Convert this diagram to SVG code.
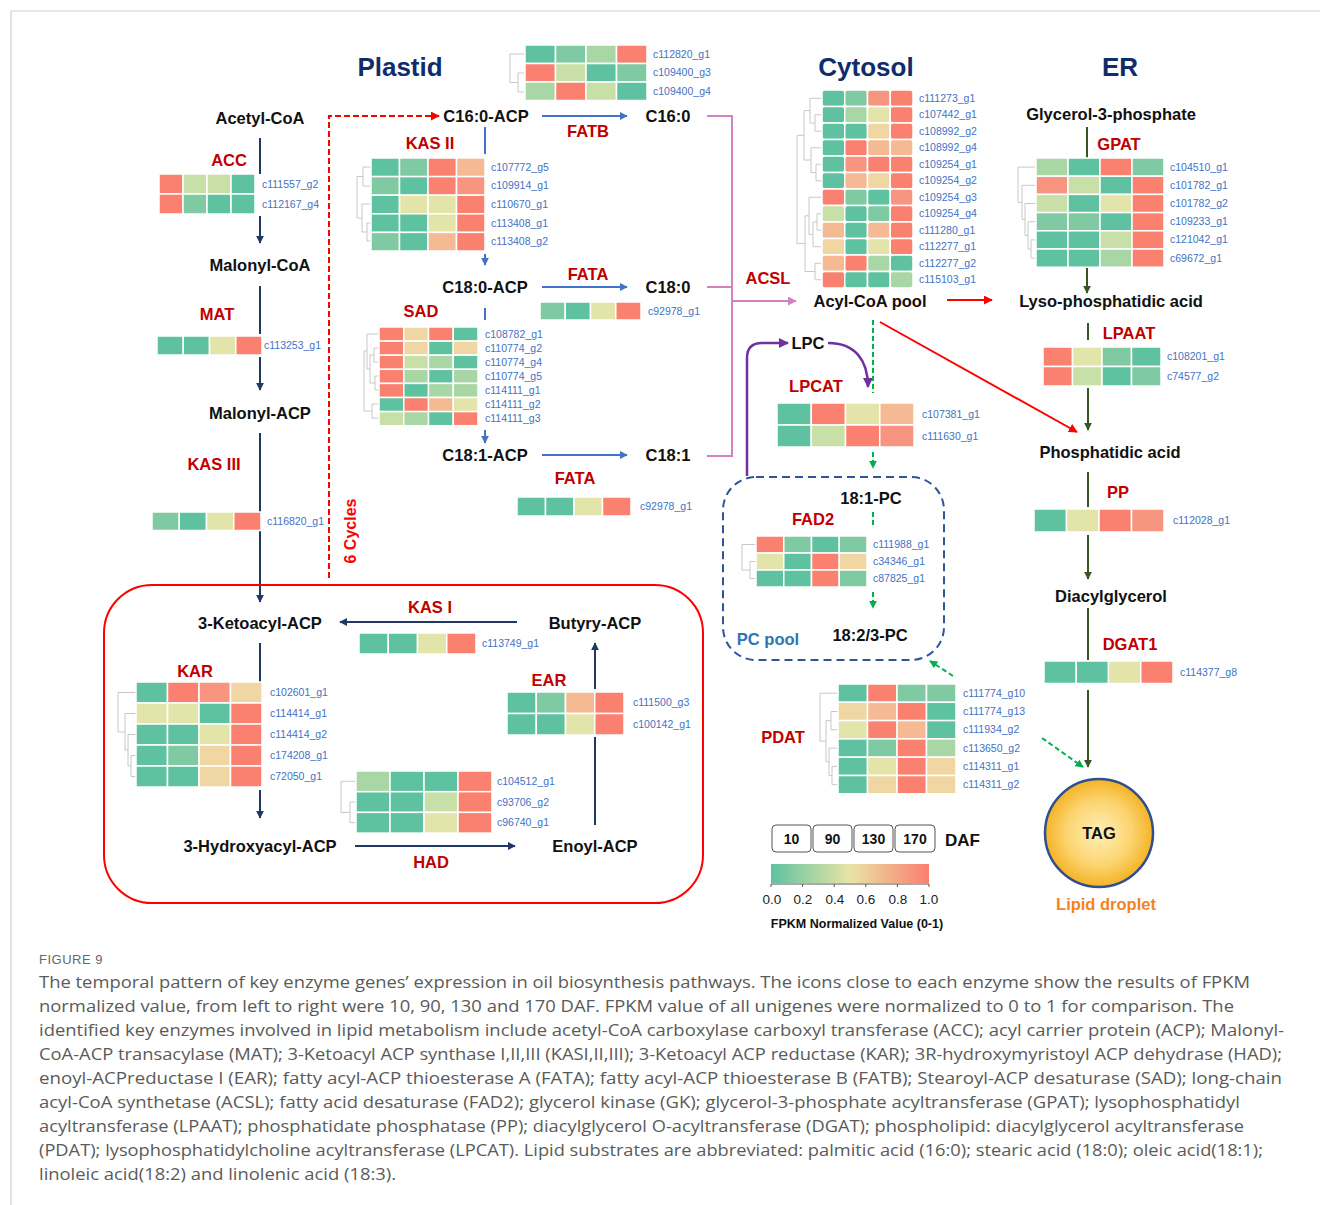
<svg xmlns="http://www.w3.org/2000/svg" width="1320" height="1205" viewBox="0 0 1320 1205">
<style>
.hm rect{stroke:#fff;stroke-width:1.5}
.cy rect{rx:2.5}
.A{fill:#5ec2a0}.B{fill:#7fcaa3}.C{fill:#a8d6a4}.D{fill:#c9dfa8}.E{fill:#e3e4aa}.F{fill:#f0d6a2}.G{fill:#f5ba94}.H{fill:#f89580}.I{fill:#fa806f}
.lbl{font-family:"Liberation Sans",Arial,sans-serif;font-weight:bold;font-size:16.5px;fill:#111;text-anchor:middle}
.enz{font-family:"Liberation Sans",Arial,sans-serif;font-weight:bold;font-size:16.5px;fill:#c00000;text-anchor:middle}
.gene{font-family:"Liberation Sans",Arial,sans-serif;font-size:10.5px;fill:#4472c4}
.title{font-family:"Liberation Sans",Arial,sans-serif;font-weight:bold;font-size:26px;fill:#0f2d6b;text-anchor:middle}
.dend{fill:none;stroke:#c8c8c8;stroke-width:1}
.cap{font-family:"Open Sans","Liberation Sans",sans-serif;font-size:16.5px;fill:#5a5a5a}
.navy{stroke:#1f3864;stroke-width:2;fill:none}
.blue{stroke:#4472c4;stroke-width:2;fill:none}
.pink{stroke:#d580c0;stroke-width:2;fill:none}
.red{stroke:#ff0000;stroke-width:2;fill:none}
.dg{stroke:#375623;stroke-width:2;fill:none}
.pur{stroke:#7030a0;stroke-width:2.5;fill:none}
.lg{stroke:#00b050;stroke-width:2;fill:none;stroke-dasharray:5,3}
.box{fill:#fff;stroke:#555;stroke-width:1}
.leg{font-family:"Liberation Sans",Arial,sans-serif;font-size:14px;font-weight:bold;fill:#111;text-anchor:middle}
.num{font-family:"Liberation Sans",Arial,sans-serif;font-size:13.5px;fill:#222;text-anchor:middle}
</style>
<defs>
<marker id="mNavy" viewBox="0 0 10 10" refX="9" refY="5" markerWidth="8" markerHeight="8" markerUnits="userSpaceOnUse" orient="auto"><path d="M0,0 L10,5 L0,10 z" fill="#1f3864"/></marker>
<marker id="mBlue" viewBox="0 0 10 10" refX="9" refY="5" markerWidth="8" markerHeight="8" markerUnits="userSpaceOnUse" orient="auto"><path d="M0,0 L10,5 L0,10 z" fill="#4472c4"/></marker>
<marker id="mPink" viewBox="0 0 10 10" refX="9" refY="5" markerWidth="9" markerHeight="9" markerUnits="userSpaceOnUse" orient="auto"><path d="M0,0 L10,5 L0,10 z" fill="#d580c0"/></marker>
<marker id="mRed" viewBox="0 0 10 10" refX="9" refY="5" markerWidth="9" markerHeight="9" markerUnits="userSpaceOnUse" orient="auto"><path d="M0,0 L10,5 L0,10 z" fill="#ff0000"/></marker>
<marker id="mDg" viewBox="0 0 10 10" refX="9" refY="5" markerWidth="8" markerHeight="8" markerUnits="userSpaceOnUse" orient="auto"><path d="M0,0 L10,5 L0,10 z" fill="#375623"/></marker>
<marker id="mPur" viewBox="0 0 10 10" refX="9" refY="5" markerWidth="10" markerHeight="10" markerUnits="userSpaceOnUse" orient="auto"><path d="M0,0 L10,5 L0,10 z" fill="#7030a0"/></marker>
<marker id="mLg" viewBox="0 0 10 10" refX="9" refY="5" markerWidth="8" markerHeight="8" markerUnits="userSpaceOnUse" orient="auto"><path d="M0,0 L10,5 L0,10 z" fill="#00b050"/></marker>
<linearGradient id="scale" x1="0" y1="0" x2="1" y2="0">
<stop offset="0" stop-color="#5ec2a0"/><stop offset="0.5" stop-color="#e8e4a6"/><stop offset="1" stop-color="#fa7f6e"/>
</linearGradient>
<radialGradient id="tag" cx="0.5" cy="0.5" r="0.5">
<stop offset="0" stop-color="#fff0b8"/><stop offset="0.6" stop-color="#fcd470"/><stop offset="1" stop-color="#f4b326"/>
</radialGradient>
</defs>
<rect width="1320" height="1205" fill="#fff"/>
<path d="M11,1205 V11 H1320" fill="none" stroke="#d0d0d0" stroke-width="1.2"/>

<g id="titles">
<text class="title" x="400" y="76">Plastid</text>
<text class="title" x="866" y="76">Cytosol</text>
<text class="title" x="1120" y="76">ER</text>
</g>

<g id="connectors">
<line class="navy" x1="260" y1="138" x2="260" y2="174"/>
<line class="navy" x1="260" y1="216" x2="260" y2="243" marker-end="url(#mNavy)"/>
<line class="navy" x1="260" y1="286" x2="260" y2="334"/>
<line class="navy" x1="260" y1="357" x2="260" y2="390" marker-end="url(#mNavy)"/>
<line class="navy" x1="260" y1="433" x2="260" y2="512"/>
<line class="navy" x1="260" y1="531" x2="260" y2="602" marker-end="url(#mNavy)"/>
<line class="navy" x1="260" y1="643" x2="260" y2="682"/>
<line class="navy" x1="260" y1="790" x2="260" y2="818" marker-end="url(#mNavy)"/>
<line class="navy" x1="517" y1="622" x2="340" y2="622" marker-end="url(#mNavy)"/>
<line class="navy" x1="355" y1="846" x2="515" y2="846" marker-end="url(#mNavy)"/>
<line class="navy" x1="595" y1="825" x2="595" y2="737"/>
<line class="navy" x1="595" y1="689" x2="595" y2="643" marker-end="url(#mNavy)"/>
<path d="M329,578 V116 H439" fill="none" stroke="#ff0000" stroke-width="2" stroke-dasharray="6,3" marker-end="url(#mRed)"/>
<line class="blue" x1="485" y1="127" x2="485" y2="154"/>
<line class="blue" x1="485" y1="254" x2="485" y2="265" marker-end="url(#mBlue)"/>
<line class="blue" x1="485" y1="308" x2="485" y2="320"/>
<line class="blue" x1="485" y1="430" x2="485" y2="443" marker-end="url(#mBlue)"/>
<line class="blue" x1="542" y1="116" x2="627" y2="116" marker-end="url(#mBlue)"/>
<line class="blue" x1="542" y1="287" x2="627" y2="287" marker-end="url(#mBlue)"/>
<line class="blue" x1="542" y1="455" x2="627" y2="455" marker-end="url(#mBlue)"/>
<path class="pink" d="M707,116 H732 V456 H707 M707,287 H732"/>
<line class="pink" x1="732" y1="301" x2="796" y2="301" marker-end="url(#mPink)"/>
<line class="red" x1="947" y1="300" x2="992" y2="300" marker-end="url(#mRed)"/>
<line class="red" x1="880" y1="322" x2="1077" y2="432" marker-end="url(#mRed)"/>
<line class="dg" x1="1087" y1="127" x2="1087" y2="158"/>
<line class="dg" x1="1087" y1="267" x2="1087" y2="293" marker-end="url(#mDg)"/>
<line class="dg" x1="1088" y1="323" x2="1088" y2="340"/>
<line class="dg" x1="1088" y1="388" x2="1088" y2="430" marker-end="url(#mDg)"/>
<line class="dg" x1="1088" y1="472" x2="1088" y2="507"/>
<line class="dg" x1="1088" y1="535" x2="1088" y2="579" marker-end="url(#mDg)"/>
<line class="dg" x1="1088" y1="608" x2="1088" y2="660"/>
<line class="dg" x1="1088" y1="690" x2="1088" y2="767" marker-end="url(#mDg)"/>
<path class="pur" d="M747,476 V358 Q747,343 762,343 H788" marker-end="url(#mPur)"/>
<path class="pur" d="M828,343 C855,343 868,360 868,387" marker-end="url(#mPur)"/>
<line class="lg" x1="873" y1="320" x2="873" y2="393"/>
<line class="lg" x1="873" y1="452" x2="873" y2="468" marker-end="url(#mLg)"/>
<line class="lg" x1="873" y1="512" x2="873" y2="528"/>
<line class="lg" x1="873" y1="592" x2="873" y2="608" marker-end="url(#mLg)"/>
<line class="lg" x1="953" y1="676" x2="930" y2="661" marker-end="url(#mLg)"/>
<line class="lg" x1="1042" y1="738" x2="1083" y2="767" marker-end="url(#mLg)"/>
</g>

<g id="cycle-box"><rect x="104" y="585" width="599" height="318" rx="48" fill="none" stroke="#ff0000" stroke-width="2"/></g>
<g id="pc-pool"><rect x="723" y="477" width="221" height="183" rx="33" fill="none" stroke="#2f5597" stroke-width="2" stroke-dasharray="8,5"/>
<text x="768" y="645" font-family="Liberation Sans, Arial, sans-serif" font-weight="bold" font-size="16.5" fill="#2e75b6" text-anchor="middle">PC pool</text></g>

<g id="cycles-label"><text transform="translate(356,531) rotate(-90)" font-family="Liberation Sans, Arial, sans-serif" font-weight="bold" font-size="16" fill="#ff0000" text-anchor="middle">6 Cycles</text></g>

<g id="metabolites">
<text class="lbl" x="260" y="124">Acetyl-CoA</text>
<text class="lbl" x="260" y="271">Malonyl-CoA</text>
<text class="lbl" x="260" y="419">Malonyl-ACP</text>
<text class="lbl" x="486" y="122">C16:0-ACP</text>
<text class="lbl" x="668" y="122">C16:0</text>
<text class="lbl" x="485" y="293">C18:0-ACP</text>
<text class="lbl" x="668" y="293">C18:0</text>
<text class="lbl" x="485" y="461">C18:1-ACP</text>
<text class="lbl" x="668" y="461">C18:1</text>
<text class="lbl" x="870" y="307">Acyl-CoA pool</text>
<text class="lbl" x="1111" y="120">Glycerol-3-phosphate</text>
<text class="lbl" x="1111" y="307">Lyso-phosphatidic acid</text>
<text class="lbl" x="1110" y="458">Phosphatidic acid</text>
<text class="lbl" x="1111" y="602">Diacylglycerol</text>
<text class="lbl" x="808" y="349">LPC</text>
<text class="lbl" x="871" y="504">18:1-PC</text>
<text class="lbl" x="870" y="641">18:2/3-PC</text>
<text class="lbl" x="260" y="629">3-Ketoacyl-ACP</text>
<text class="lbl" x="595" y="629">Butyry-ACP</text>
<text class="lbl" x="260" y="852">3-Hydroxyacyl-ACP</text>
<text class="lbl" x="595" y="852">Enoyl-ACP</text>
</g>

<g id="tag-droplet">
<circle cx="1099" cy="833" r="54" fill="url(#tag)" stroke="#2f4f8f" stroke-width="2.5"/>
<text class="lbl" x="1099" y="839">TAG</text>
<text x="1106" y="910" font-family="Liberation Sans, Arial, sans-serif" font-weight="bold" font-size="16.5" fill="#f4831f" text-anchor="middle">Lipid droplet</text>
</g>

<g id="enzymes">
<text class="enz" x="229" y="166">ACC</text>
<text class="enz" x="217" y="320">MAT</text>
<text class="enz" x="214" y="470">KAS III</text>
<text class="enz" x="430" y="149">KAS II</text>
<text class="enz" x="588" y="137">FATB</text>
<text class="enz" x="588" y="280">FATA</text>
<text class="enz" x="421" y="317">SAD</text>
<text class="enz" x="575" y="484">FATA</text>
<text class="enz" x="768" y="284">ACSL</text>
<text class="enz" x="1119" y="150">GPAT</text>
<text class="enz" x="1129" y="339">LPAAT</text>
<text class="enz" x="1118" y="498">PP</text>
<text class="enz" x="1130" y="650">DGAT1</text>
<text class="enz" x="816" y="392">LPCAT</text>
<text class="enz" x="813" y="525">FAD2</text>
<text class="enz" x="783" y="743">PDAT</text>
<text class="enz" x="430" y="613">KAS I</text>
<text class="enz" x="195" y="677">KAR</text>
<text class="enz" x="549" y="686">EAR</text>
<text class="enz" x="431" y="868">HAD</text>
</g>

<g id="hm-acc"><g class="hm" transform="translate(159,174)">
<rect x="0" y="0" width="24" height="20" class="I"/><rect x="24" y="0" width="24" height="20" class="D"/><rect x="48" y="0" width="24" height="20" class="D"/><rect x="72" y="0" width="24" height="20" class="A"/>
<rect x="0" y="20" width="24" height="20" class="I"/><rect x="24" y="20" width="24" height="20" class="B"/><rect x="48" y="20" width="24" height="20" class="A"/><rect x="72" y="20" width="24" height="20" class="A"/>
</g><text class="gene" x="262" y="187.5">c111557_g2</text><text class="gene" x="262" y="207.5">c112167_g4</text></g>

<g id="hm-mat"><g class="hm" transform="translate(157,336)">
<rect x="0" y="0" width="26.25" height="19" class="A"/><rect x="26.25" y="0" width="26.25" height="19" class="A"/><rect x="52.5" y="0" width="26.25" height="19" class="E"/><rect x="78.75" y="0" width="26.25" height="19" class="I"/>
</g><text class="gene" x="264" y="349">c113253_g1</text></g>

<g id="hm-kas3"><g class="hm" transform="translate(152,512)">
<rect x="0" y="0" width="27.25" height="18.5" class="B"/><rect x="27.25" y="0" width="27.25" height="18.5" class="A"/><rect x="54.5" y="0" width="27.25" height="18.5" class="E"/><rect x="81.75" y="0" width="27.25" height="18.5" class="I"/>
</g><text class="gene" x="267" y="524.5">c116820_g1</text></g>

<g id="hm-fatb">
<path class="dend" d="M525,73 H518 V92 H525 M518,82.5 H510 V54 H525"/>
<g class="hm" transform="translate(525,45)">
<rect x="0" y="0" width="30.5" height="18.5" class="A"/><rect x="30.5" y="0" width="30.5" height="18.5" class="B"/><rect x="61" y="0" width="30.5" height="18.5" class="C"/><rect x="91.5" y="0" width="30.5" height="18.5" class="I"/>
<rect x="0" y="18.5" width="30.5" height="18.5" class="I"/><rect x="30.5" y="18.5" width="30.5" height="18.5" class="D"/><rect x="61" y="18.5" width="30.5" height="18.5" class="A"/><rect x="91.5" y="18.5" width="30.5" height="18.5" class="B"/>
<rect x="0" y="37" width="30.5" height="18.5" class="C"/><rect x="30.5" y="37" width="30.5" height="18.5" class="I"/><rect x="61" y="37" width="30.5" height="18.5" class="D"/><rect x="91.5" y="37" width="30.5" height="18.5" class="A"/>
</g>
<text class="gene" x="653" y="57.5">c112820_g1</text><text class="gene" x="653" y="76">c109400_g3</text><text class="gene" x="653" y="94.5">c109400_g4</text></g>

<g id="hm-kas2">
<path class="dend" d="M371,167 H363 V186 H371 M371,223 H367 V241 H371 M367,232 H362 V204 H371 M363,176.5 H357 V218 H362"/>
<g class="hm" transform="translate(371,158)">
<rect x="0" y="0" width="28.5" height="18.6" class="A"/><rect x="28.5" y="0" width="28.5" height="18.6" class="B"/><rect x="57" y="0" width="28.5" height="18.6" class="I"/><rect x="85.5" y="0" width="28.5" height="18.6" class="G"/>
<rect x="0" y="18.6" width="28.5" height="18.6" class="B"/><rect x="28.5" y="18.6" width="28.5" height="18.6" class="A"/><rect x="57" y="18.6" width="28.5" height="18.6" class="I"/><rect x="85.5" y="18.6" width="28.5" height="18.6" class="H"/>
<rect x="0" y="37.2" width="28.5" height="18.6" class="A"/><rect x="28.5" y="37.2" width="28.5" height="18.6" class="E"/><rect x="57" y="37.2" width="28.5" height="18.6" class="E"/><rect x="85.5" y="37.2" width="28.5" height="18.6" class="I"/>
<rect x="0" y="55.8" width="28.5" height="18.6" class="A"/><rect x="28.5" y="55.8" width="28.5" height="18.6" class="A"/><rect x="57" y="55.8" width="28.5" height="18.6" class="E"/><rect x="85.5" y="55.8" width="28.5" height="18.6" class="I"/>
<rect x="0" y="74.4" width="28.5" height="18.6" class="B"/><rect x="28.5" y="74.4" width="28.5" height="18.6" class="A"/><rect x="57" y="74.4" width="28.5" height="18.6" class="G"/><rect x="85.5" y="74.4" width="28.5" height="18.6" class="I"/>
</g>
<text class="gene" x="491" y="170.8">c107772_g5</text><text class="gene" x="491" y="189.4">c109914_g1</text><text class="gene" x="491" y="208">c110670_g1</text><text class="gene" x="491" y="226.6">c113408_g1</text><text class="gene" x="491" y="245.2">c113408_g2</text></g>

<g id="hm-fata1"><g class="hm" transform="translate(540,302)">
<rect x="0" y="0" width="25.25" height="18" class="B"/><rect x="25.25" y="0" width="25.25" height="18" class="A"/><rect x="50.5" y="0" width="25.25" height="18" class="E"/><rect x="75.75" y="0" width="25.25" height="18" class="I"/>
</g><text class="gene" x="648" y="314.5">c92978_g1</text></g>

<g id="hm-sad">
<path class="dend" d="M379,348 H374 V362 H379 M379,376 H375 V390 H379 M374,355 H370 V383 H375 M370,369 H367 V334 H379 M379,404 H372 V418 H379 M367,351 H364 V411 H372"/>
<g class="hm" transform="translate(379,327)">
<rect x="0" y="0" width="24.75" height="14.1" class="I"/><rect x="24.75" y="0" width="24.75" height="14.1" class="F"/><rect x="49.5" y="0" width="24.75" height="14.1" class="I"/><rect x="74.25" y="0" width="24.75" height="14.1" class="A"/>
<rect x="0" y="14.1" width="24.75" height="14.1" class="I"/><rect x="24.75" y="14.1" width="24.75" height="14.1" class="F"/><rect x="49.5" y="14.1" width="24.75" height="14.1" class="A"/><rect x="74.25" y="14.1" width="24.75" height="14.1" class="F"/>
<rect x="0" y="28.2" width="24.75" height="14.1" class="I"/><rect x="24.75" y="28.2" width="24.75" height="14.1" class="D"/><rect x="49.5" y="28.2" width="24.75" height="14.1" class="C"/><rect x="74.25" y="28.2" width="24.75" height="14.1" class="A"/>
<rect x="0" y="42.3" width="24.75" height="14.1" class="I"/><rect x="24.75" y="42.3" width="24.75" height="14.1" class="C"/><rect x="49.5" y="42.3" width="24.75" height="14.1" class="A"/><rect x="74.25" y="42.3" width="24.75" height="14.1" class="C"/>
<rect x="0" y="56.4" width="24.75" height="14.1" class="I"/><rect x="24.75" y="56.4" width="24.75" height="14.1" class="A"/><rect x="49.5" y="56.4" width="24.75" height="14.1" class="C"/><rect x="74.25" y="56.4" width="24.75" height="14.1" class="C"/>
<rect x="0" y="70.5" width="24.75" height="14.1" class="A"/><rect x="24.75" y="70.5" width="24.75" height="14.1" class="I"/><rect x="49.5" y="70.5" width="24.75" height="14.1" class="G"/><rect x="74.25" y="70.5" width="24.75" height="14.1" class="E"/>
<rect x="0" y="84.6" width="24.75" height="14.1" class="D"/><rect x="24.75" y="84.6" width="24.75" height="14.1" class="C"/><rect x="49.5" y="84.6" width="24.75" height="14.1" class="A"/><rect x="74.25" y="84.6" width="24.75" height="14.1" class="I"/>
</g>
<text class="gene" x="485" y="337.5">c108782_g1</text><text class="gene" x="485" y="351.6">c110774_g2</text><text class="gene" x="485" y="365.7">c110774_g4</text><text class="gene" x="485" y="379.8">c110774_g5</text><text class="gene" x="485" y="393.9">c114111_g1</text><text class="gene" x="485" y="408">c114111_g2</text><text class="gene" x="485" y="422.1">c114111_g3</text></g>

<g id="hm-fata2"><g class="hm" transform="translate(517,497)">
<rect x="0" y="0" width="28.5" height="19" class="A"/><rect x="28.5" y="0" width="28.5" height="19" class="A"/><rect x="57" y="0" width="28.5" height="19" class="E"/><rect x="85.5" y="0" width="28.5" height="19" class="I"/>
</g><text class="gene" x="640" y="510">c92978_g1</text></g>

<g id="hm-acsl">
<path class="dend" d="M822,114.75 H815 V131.25 H822 M815,123 H810 V98.25 H822 M822,164.25 H816 V180.75 H822 M816,172.5 H811 V147.75 H822 M810,110.6 H804 V160 H811 M822,213.75 H817 V230.25 H822 M817,222 H813 V246.75 H822 M813,234.4 H809 V197.25 H822 M822,263.25 H815 V279.75 H822 M809,215.8 H805 V271.5 H815 M804,135.3 H797 V243.6 H805"/>
<g class="hm cy" transform="translate(822,90)">
<rect x="0" y="0" width="22.75" height="16.5" class="A"/><rect x="22.75" y="0" width="22.75" height="16.5" class="B"/><rect x="45.5" y="0" width="22.75" height="16.5" class="H"/><rect x="68.25" y="0" width="22.75" height="16.5" class="I"/>
<rect x="0" y="16.5" width="22.75" height="16.5" class="A"/><rect x="22.75" y="16.5" width="22.75" height="16.5" class="C"/><rect x="45.5" y="16.5" width="22.75" height="16.5" class="E"/><rect x="68.25" y="16.5" width="22.75" height="16.5" class="I"/>
<rect x="0" y="33" width="22.75" height="16.5" class="A"/><rect x="22.75" y="33" width="22.75" height="16.5" class="A"/><rect x="45.5" y="33" width="22.75" height="16.5" class="F"/><rect x="68.25" y="33" width="22.75" height="16.5" class="I"/>
<rect x="0" y="49.5" width="22.75" height="16.5" class="A"/><rect x="22.75" y="49.5" width="22.75" height="16.5" class="I"/><rect x="45.5" y="49.5" width="22.75" height="16.5" class="G"/><rect x="68.25" y="49.5" width="22.75" height="16.5" class="G"/>
<rect x="0" y="66" width="22.75" height="16.5" class="A"/><rect x="22.75" y="66" width="22.75" height="16.5" class="H"/><rect x="45.5" y="66" width="22.75" height="16.5" class="I"/><rect x="68.25" y="66" width="22.75" height="16.5" class="I"/>
<rect x="0" y="82.5" width="22.75" height="16.5" class="A"/><rect x="22.75" y="82.5" width="22.75" height="16.5" class="G"/><rect x="45.5" y="82.5" width="22.75" height="16.5" class="F"/><rect x="68.25" y="82.5" width="22.75" height="16.5" class="I"/>
<rect x="0" y="99" width="22.75" height="16.5" class="I"/><rect x="22.75" y="99" width="22.75" height="16.5" class="B"/><rect x="45.5" y="99" width="22.75" height="16.5" class="A"/><rect x="68.25" y="99" width="22.75" height="16.5" class="H"/>
<rect x="0" y="115.5" width="22.75" height="16.5" class="D"/><rect x="22.75" y="115.5" width="22.75" height="16.5" class="A"/><rect x="45.5" y="115.5" width="22.75" height="16.5" class="B"/><rect x="68.25" y="115.5" width="22.75" height="16.5" class="I"/>
<rect x="0" y="132" width="22.75" height="16.5" class="G"/><rect x="22.75" y="132" width="22.75" height="16.5" class="A"/><rect x="45.5" y="132" width="22.75" height="16.5" class="G"/><rect x="68.25" y="132" width="22.75" height="16.5" class="I"/>
<rect x="0" y="148.5" width="22.75" height="16.5" class="F"/><rect x="22.75" y="148.5" width="22.75" height="16.5" class="A"/><rect x="45.5" y="148.5" width="22.75" height="16.5" class="E"/><rect x="68.25" y="148.5" width="22.75" height="16.5" class="I"/>
<rect x="0" y="165" width="22.75" height="16.5" class="G"/><rect x="22.75" y="165" width="22.75" height="16.5" class="I"/><rect x="45.5" y="165" width="22.75" height="16.5" class="C"/><rect x="68.25" y="165" width="22.75" height="16.5" class="A"/>
<rect x="0" y="181.5" width="22.75" height="16.5" class="I"/><rect x="22.75" y="181.5" width="22.75" height="16.5" class="A"/><rect x="45.5" y="181.5" width="22.75" height="16.5" class="A"/><rect x="68.25" y="181.5" width="22.75" height="16.5" class="C"/>
</g>
<text class="gene" x="919" y="101.7">c111273_g1</text><text class="gene" x="919" y="118.2">c107442_g1</text><text class="gene" x="919" y="134.7">c108992_g2</text><text class="gene" x="919" y="151.2">c108992_g4</text><text class="gene" x="919" y="167.7">c109254_g1</text><text class="gene" x="919" y="184.2">c109254_g2</text><text class="gene" x="919" y="200.7">c109254_g3</text><text class="gene" x="919" y="217.2">c109254_g4</text><text class="gene" x="919" y="233.7">c111280_g1</text><text class="gene" x="919" y="250.2">c112277_g1</text><text class="gene" x="919" y="266.7">c112277_g2</text><text class="gene" x="919" y="283.2">c115103_g1</text></g>

<g id="hm-gpat">
<path class="dend" d="M1036,239.9 H1031 V258.1 H1036 M1031,249 H1028 V221.7 H1036 M1028,235.4 H1025 V203.5 H1036 M1025,219.4 H1022 V185.3 H1036 M1022,202.4 H1018 V167.1 H1036"/>
<g class="hm" transform="translate(1036,158)">
<rect x="0" y="0" width="32" height="18.2" class="C"/><rect x="32" y="0" width="32" height="18.2" class="A"/><rect x="64" y="0" width="32" height="18.2" class="I"/><rect x="96" y="0" width="32" height="18.2" class="B"/>
<rect x="0" y="18.2" width="32" height="18.2" class="H"/><rect x="32" y="18.2" width="32" height="18.2" class="D"/><rect x="64" y="18.2" width="32" height="18.2" class="A"/><rect x="96" y="18.2" width="32" height="18.2" class="I"/>
<rect x="0" y="36.4" width="32" height="18.2" class="D"/><rect x="32" y="36.4" width="32" height="18.2" class="A"/><rect x="64" y="36.4" width="32" height="18.2" class="E"/><rect x="96" y="36.4" width="32" height="18.2" class="I"/>
<rect x="0" y="54.6" width="32" height="18.2" class="B"/><rect x="32" y="54.6" width="32" height="18.2" class="B"/><rect x="64" y="54.6" width="32" height="18.2" class="A"/><rect x="96" y="54.6" width="32" height="18.2" class="I"/>
<rect x="0" y="72.8" width="32" height="18.2" class="A"/><rect x="32" y="72.8" width="32" height="18.2" class="A"/><rect x="64" y="72.8" width="32" height="18.2" class="D"/><rect x="96" y="72.8" width="32" height="18.2" class="I"/>
<rect x="0" y="91" width="32" height="18.2" class="A"/><rect x="32" y="91" width="32" height="18.2" class="A"/><rect x="64" y="91" width="32" height="18.2" class="C"/><rect x="96" y="91" width="32" height="18.2" class="I"/>
</g>
<text class="gene" x="1170" y="170.6">c104510_g1</text><text class="gene" x="1170" y="188.8">c101782_g1</text><text class="gene" x="1170" y="207">c101782_g2</text><text class="gene" x="1170" y="225.2">c109233_g1</text><text class="gene" x="1170" y="243.4">c121042_g1</text><text class="gene" x="1170" y="261.6">c69672_g1</text></g>

<g id="hm-lpaat"><g class="hm" transform="translate(1043,347)">
<rect x="0" y="0" width="29.5" height="19.5" class="I"/><rect x="29.5" y="0" width="29.5" height="19.5" class="E"/><rect x="59" y="0" width="29.5" height="19.5" class="B"/><rect x="88.5" y="0" width="29.5" height="19.5" class="A"/>
<rect x="0" y="19.5" width="29.5" height="19.5" class="I"/><rect x="29.5" y="19.5" width="29.5" height="19.5" class="D"/><rect x="59" y="19.5" width="29.5" height="19.5" class="A"/><rect x="88.5" y="19.5" width="29.5" height="19.5" class="B"/>
</g><text class="gene" x="1167" y="360">c108201_g1</text><text class="gene" x="1167" y="379.5">c74577_g2</text></g>

<g id="hm-pp"><g class="hm" transform="translate(1034,509)">
<rect x="0" y="0" width="32.5" height="23" class="A"/><rect x="32.5" y="0" width="32.5" height="23" class="E"/><rect x="65" y="0" width="32.5" height="23" class="I"/><rect x="97.5" y="0" width="32.5" height="23" class="H"/>
</g><text class="gene" x="1173" y="524">c112028_g1</text></g>

<g id="hm-dgat1"><g class="hm" transform="translate(1044,661)">
<rect x="0" y="0" width="32.25" height="22.5" class="A"/><rect x="32.25" y="0" width="32.25" height="22.5" class="A"/><rect x="64.5" y="0" width="32.25" height="22.5" class="E"/><rect x="96.75" y="0" width="32.25" height="22.5" class="I"/>
</g><text class="gene" x="1180" y="675.5">c114377_g8</text></g>

<g id="hm-lpcat"><g class="hm" transform="translate(777,403)">
<rect x="0" y="0" width="34.25" height="22" class="A"/><rect x="34.25" y="0" width="34.25" height="22" class="I"/><rect x="68.5" y="0" width="34.25" height="22" class="E"/><rect x="102.75" y="0" width="34.25" height="22" class="G"/>
<rect x="0" y="22" width="34.25" height="22" class="A"/><rect x="34.25" y="22" width="34.25" height="22" class="D"/><rect x="68.5" y="22" width="34.25" height="22" class="I"/><rect x="102.75" y="22" width="34.25" height="22" class="H"/>
</g><text class="gene" x="922" y="417.5">c107381_g1</text><text class="gene" x="922" y="439.5">c111630_g1</text></g>

<g id="hm-fad2">
<path class="dend" d="M756,561.5 H750 V578.5 H756 M750,570 H742 V544.5 H756"/>
<g class="hm" transform="translate(756,536)">
<rect x="0" y="0" width="27.75" height="17" class="I"/><rect x="27.75" y="0" width="27.75" height="17" class="B"/><rect x="55.5" y="0" width="27.75" height="17" class="A"/><rect x="83.25" y="0" width="27.75" height="17" class="B"/>
<rect x="0" y="17" width="27.75" height="17" class="E"/><rect x="27.75" y="17" width="27.75" height="17" class="A"/><rect x="55.5" y="17" width="27.75" height="17" class="I"/><rect x="83.25" y="17" width="27.75" height="17" class="F"/>
<rect x="0" y="34" width="27.75" height="17" class="A"/><rect x="27.75" y="34" width="27.75" height="17" class="A"/><rect x="55.5" y="34" width="27.75" height="17" class="I"/><rect x="83.25" y="34" width="27.75" height="17" class="B"/>
</g>
<text class="gene" x="873" y="548">c111988_g1</text><text class="gene" x="873" y="565">c34346_g1</text><text class="gene" x="873" y="582">c87825_g1</text></g>

<g id="hm-pdat">
<path class="dend" d="M838,711.5 H831 V729.8 H838 M838,766.4 H832 V784.7 H838 M832,775.5 H829 V748.1 H838 M831,720.6 H826 V761.8 H829 M826,741.2 H820 V693.2 H838"/>
<g class="hm" transform="translate(838,684)">
<rect x="0" y="0" width="29.5" height="18.3" class="A"/><rect x="29.5" y="0" width="29.5" height="18.3" class="I"/><rect x="59" y="0" width="29.5" height="18.3" class="B"/><rect x="88.5" y="0" width="29.5" height="18.3" class="B"/>
<rect x="0" y="18.3" width="29.5" height="18.3" class="F"/><rect x="29.5" y="18.3" width="29.5" height="18.3" class="G"/><rect x="59" y="18.3" width="29.5" height="18.3" class="I"/><rect x="88.5" y="18.3" width="29.5" height="18.3" class="A"/>
<rect x="0" y="36.6" width="29.5" height="18.3" class="E"/><rect x="29.5" y="36.6" width="29.5" height="18.3" class="I"/><rect x="59" y="36.6" width="29.5" height="18.3" class="G"/><rect x="88.5" y="36.6" width="29.5" height="18.3" class="A"/>
<rect x="0" y="54.9" width="29.5" height="18.3" class="A"/><rect x="29.5" y="54.9" width="29.5" height="18.3" class="B"/><rect x="59" y="54.9" width="29.5" height="18.3" class="I"/><rect x="88.5" y="54.9" width="29.5" height="18.3" class="C"/>
<rect x="0" y="73.2" width="29.5" height="18.3" class="A"/><rect x="29.5" y="73.2" width="29.5" height="18.3" class="E"/><rect x="59" y="73.2" width="29.5" height="18.3" class="I"/><rect x="88.5" y="73.2" width="29.5" height="18.3" class="F"/>
<rect x="0" y="91.5" width="29.5" height="18.3" class="A"/><rect x="29.5" y="91.5" width="29.5" height="18.3" class="F"/><rect x="59" y="91.5" width="29.5" height="18.3" class="I"/><rect x="88.5" y="91.5" width="29.5" height="18.3" class="F"/>
</g>
<text class="gene" x="963" y="696.6">c111774_g10</text><text class="gene" x="963" y="714.9">c111774_g13</text><text class="gene" x="963" y="733.2">c111934_g2</text><text class="gene" x="963" y="751.5">c113650_g2</text><text class="gene" x="963" y="769.8">c114311_g1</text><text class="gene" x="963" y="788.1">c114311_g2</text></g>

<g id="hm-kas1"><g class="hm" transform="translate(359,633)">
<rect x="0" y="0" width="29.25" height="21" class="A"/><rect x="29.25" y="0" width="29.25" height="21" class="A"/><rect x="58.5" y="0" width="29.25" height="21" class="E"/><rect x="87.75" y="0" width="29.25" height="21" class="I"/>
</g><text class="gene" x="482" y="647">c113749_g1</text></g>

<g id="hm-kar">
<path class="dend" d="M136,755.5 H131 V776.5 H136 M131,766 H128 V734.5 H136 M128,750 H125 V713.5 H136 M125,732 H118 V692.5 H136"/>
<g class="hm" transform="translate(136,682)">
<rect x="0" y="0" width="31.5" height="21" class="A"/><rect x="31.5" y="0" width="31.5" height="21" class="I"/><rect x="63" y="0" width="31.5" height="21" class="H"/><rect x="94.5" y="0" width="31.5" height="21" class="F"/>
<rect x="0" y="21" width="31.5" height="21" class="E"/><rect x="31.5" y="21" width="31.5" height="21" class="E"/><rect x="63" y="21" width="31.5" height="21" class="A"/><rect x="94.5" y="21" width="31.5" height="21" class="I"/>
<rect x="0" y="42" width="31.5" height="21" class="A"/><rect x="31.5" y="42" width="31.5" height="21" class="A"/><rect x="63" y="42" width="31.5" height="21" class="E"/><rect x="94.5" y="42" width="31.5" height="21" class="I"/>
<rect x="0" y="63" width="31.5" height="21" class="A"/><rect x="31.5" y="63" width="31.5" height="21" class="B"/><rect x="63" y="63" width="31.5" height="21" class="F"/><rect x="94.5" y="63" width="31.5" height="21" class="I"/>
<rect x="0" y="84" width="31.5" height="21" class="A"/><rect x="31.5" y="84" width="31.5" height="21" class="A"/><rect x="63" y="84" width="31.5" height="21" class="F"/><rect x="94.5" y="84" width="31.5" height="21" class="I"/>
</g>
<text class="gene" x="270" y="696">c102601_g1</text><text class="gene" x="270" y="717">c114414_g1</text><text class="gene" x="270" y="738">c114414_g2</text><text class="gene" x="270" y="759">c174208_g1</text><text class="gene" x="270" y="780">c72050_g1</text></g>

<g id="hm-ear"><g class="hm" transform="translate(507,692)">
<rect x="0" y="0" width="29.25" height="21.5" class="A"/><rect x="29.25" y="0" width="29.25" height="21.5" class="B"/><rect x="58.5" y="0" width="29.25" height="21.5" class="G"/><rect x="87.75" y="0" width="29.25" height="21.5" class="I"/>
<rect x="0" y="21.5" width="29.25" height="21.5" class="A"/><rect x="29.25" y="21.5" width="29.25" height="21.5" class="A"/><rect x="58.5" y="21.5" width="29.25" height="21.5" class="E"/><rect x="87.75" y="21.5" width="29.25" height="21.5" class="I"/>
</g><text class="gene" x="633" y="706">c111500_g3</text><text class="gene" x="633" y="727.5">c100142_g1</text></g>

<g id="hm-had">
<path class="dend" d="M356,802 H350 V822.7 H356 M350,812.4 H341 V781.3 H356"/>
<g class="hm" transform="translate(356,771)">
<rect x="0" y="0" width="34" height="20.7" class="C"/><rect x="34" y="0" width="34" height="20.7" class="A"/><rect x="68" y="0" width="34" height="20.7" class="A"/><rect x="102" y="0" width="34" height="20.7" class="I"/>
<rect x="0" y="20.7" width="34" height="20.7" class="A"/><rect x="34" y="20.7" width="34" height="20.7" class="A"/><rect x="68" y="20.7" width="34" height="20.7" class="D"/><rect x="102" y="20.7" width="34" height="20.7" class="I"/>
<rect x="0" y="41.4" width="34" height="20.7" class="A"/><rect x="34" y="41.4" width="34" height="20.7" class="A"/><rect x="68" y="41.4" width="34" height="20.7" class="E"/><rect x="102" y="41.4" width="34" height="20.7" class="I"/>
</g>
<text class="gene" x="497" y="785">c104512_g1</text><text class="gene" x="497" y="805.5">c93706_g2</text><text class="gene" x="497" y="826">c96740_g1</text></g>

<g id="legend">
<rect class="box" x="772" y="825" width="39" height="27" rx="4"/><rect class="box" x="813" y="825" width="39" height="27" rx="4"/><rect class="box" x="854" y="825" width="39" height="27" rx="4"/><rect class="box" x="895" y="825" width="40" height="27" rx="4"/>
<text class="leg" x="791.5" y="844">10</text><text class="leg" x="832.5" y="844">90</text><text class="leg" x="873.5" y="844">130</text><text class="leg" x="915" y="844">170</text>
<text x="945" y="846" font-family="Liberation Sans, Arial, sans-serif" font-weight="bold" font-size="17" fill="#111">DAF</text>
<rect x="771" y="864" width="158" height="19" fill="url(#scale)"/>
<path d="M771,884 H929 M771,884 v3 M802.6,884 v3 M834.2,884 v3 M865.8,884 v3 M897.4,884 v3 M929,884 v3" stroke="#555" stroke-width="1" fill="none"/>
<text class="num" x="772" y="904">0.0</text><text class="num" x="803" y="904">0.2</text><text class="num" x="835" y="904">0.4</text><text class="num" x="866" y="904">0.6</text><text class="num" x="898" y="904">0.8</text><text class="num" x="929" y="904">1.0</text>
<text x="857" y="928" font-family="Liberation Sans, Arial, sans-serif" font-weight="bold" font-size="12.5" fill="#111" text-anchor="middle">FPKM Normalized Value (0-1)</text>
</g>

<g id="caption">
<text x="39" y="964" font-family="Liberation Sans, Arial, sans-serif" font-size="13" fill="#666" letter-spacing="0.5">FIGURE 9</text>
<text class="cap" x="39" y="988" textLength="1211" lengthAdjust="spacingAndGlyphs">The temporal pattern of key enzyme genes’ expression in oil biosynthesis pathways. The icons close to each enzyme show the results of FPKM</text>
<text class="cap" x="39" y="1012" textLength="1195" lengthAdjust="spacingAndGlyphs">normalized value, from left to right were 10, 90, 130 and 170 DAF. FPKM value of all unigenes were normalized to 0 to 1 for comparison. The</text>
<text class="cap" x="39" y="1036" textLength="1245" lengthAdjust="spacingAndGlyphs">identified key enzymes involved in lipid metabolism include acetyl-CoA carboxylase carboxyl transferase (ACC); acyl carrier protein (ACP); Malonyl-</text>
<text class="cap" x="39" y="1060" textLength="1243" lengthAdjust="spacingAndGlyphs">CoA-ACP transacylase (MAT); 3-Ketoacyl ACP synthase I,II,III (KASI,II,III); 3-Ketoacyl ACP reductase (KAR); 3R-hydroxymyristoyl ACP dehydrase (HAD);</text>
<text class="cap" x="39" y="1084" textLength="1243" lengthAdjust="spacingAndGlyphs">enoyl-ACPreductase I (EAR); fatty acyl-ACP thioesterase A (FATA); fatty acyl-ACP thioesterase B (FATB); Stearoyl-ACP desaturase (SAD); long-chain</text>
<text class="cap" x="39" y="1108" textLength="1201" lengthAdjust="spacingAndGlyphs">acyl-CoA synthetase (ACSL); fatty acid desaturase (FAD2); glycerol kinase (GK); glycerol-3-phosphate acyltransferase (GPAT); lysophosphatidyl</text>
<text class="cap" x="39" y="1132" textLength="1205" lengthAdjust="spacingAndGlyphs">acyltransferase (LPAAT); phosphatidate phosphatase (PP); diacylglycerol O-acyltransferase (DGAT); phospholipid: diacylglycerol acyltransferase</text>
<text class="cap" x="39" y="1156" textLength="1224" lengthAdjust="spacingAndGlyphs">(PDAT); lysophosphatidylcholine acyltransferase (LPCAT). Lipid substrates are abbreviated: palmitic acid (16:0); stearic acid (18:0); oleic acid(18:1);</text>
<text class="cap" x="39" y="1180" textLength="357" lengthAdjust="spacingAndGlyphs">linoleic acid(18:2) and linolenic acid (18:3).</text>
</g>
</svg>
